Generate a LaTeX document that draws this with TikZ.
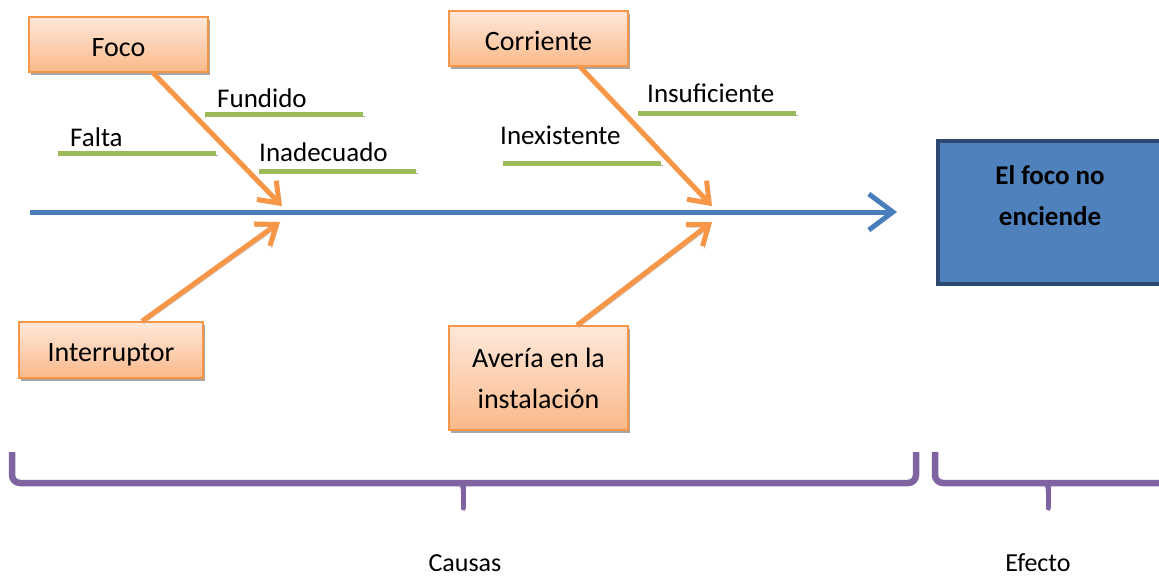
\documentclass[tikz,border=0pt]{standalone}
\usepackage{fontspec}
\setmainfont{Carlito}
\usetikzlibrary{arrows.meta,shadows,calc}
\definecolor{borange}{HTML}{F79646}
\definecolor{otop}{HTML}{FEE8DA}
\definecolor{obot}{HTML}{FAB98A}
\definecolor{sblue}{HTML}{4A7EBB}
\definecolor{eblue}{HTML}{4F81BD}
\definecolor{eborder}{HTML}{2C4770}
\definecolor{sgreen}{HTML}{9BBB59}
\definecolor{spurple}{HTML}{8064A2}
\tikzset{
  causebox/.style={draw=borange,line width=1.5pt,top color=otop,bottom color=obot,
    minimum width=179pt,align=center,font=\fontsize{28}{41}\selectfont,
    drop shadow={shadow xshift=2pt,shadow yshift=-3pt,fill=black!35,opacity=1}},
  onebox/.style={causebox,text height=26pt,text depth=3pt},
  lineshadow/.style={preaction={draw=black!35,transform canvas={shift={(1.5pt,-2.5pt)}}}},
  causearrow/.style={draw=borange,line width=5pt,lineshadow,
    -{Straight Barb[length=18pt,width=27pt]}},
  subline/.style={draw=sgreen,line width=5pt,lineshadow},
  sublabel/.style={anchor=base west,inner sep=0pt,font=\fontsize{27}{30}\selectfont},
  brace/.style={draw=spurple,line width=6.5pt,rounded corners=8pt,lineshadow},
  bracelabel/.style={inner sep=0pt,anchor=base,font=\fontsize{26}{28}\selectfont}
}
\begin{document}
\begin{tikzpicture}[x=1pt,y=-1pt]
\useasboundingbox (0,0) rectangle (1159,576);
% boxes
\node[onebox,minimum height=55pt] (foco) at (118.5,44.5) {Foco};
\node[onebox,minimum height=55pt] (corr) at (538.5,38.5) {Corriente};
\node[onebox,minimum width=184pt,minimum height=56pt] (inter) at (111,350) {Interruptor};
\node[causebox,minimum height=104pt] (aver) at (538.5,378) {Avería en la\\instalación};
% effect box
\node[draw=eborder,line width=4pt,fill=eblue,minimum width=240pt,minimum height=143pt,
  anchor=north west] (efecto) at (936,139) {};
\node[font=\fontsize{27}{41}\selectfont\bfseries,align=center,anchor=north] (eftext) at (1050,162) {El foco no\\enciende};
% spine
\coordinate (s0) at (30,212);
\coordinate (s1) at (897,212);
\draw[draw=sblue,line width=5pt,-{Straight Barb[length=24pt,width=36pt]}] (s0) -- (s1);
% tips
\coordinate (t1) at (282,206);
\coordinate (t2) at (712,206);
\coordinate (t3) at (280,222);
\coordinate (t4) at (712,222);
% green sublines
\draw[subline] (58,153) -- (216,153);
\draw[subline] (205,114) -- (363,114);
\draw[subline] (259,171) -- (416,171);
\draw[subline] (638,113) -- (796,113);
\draw[subline] (503,163) -- (661,163);
% arrows
\draw[causearrow] ([xshift=34.5pt]foco.south) -- (t1);
\draw[causearrow] ([xshift=41.5pt]corr.south) -- (t2);
\draw[causearrow] ([xshift=31pt]inter.north) -- (t3);
\draw[causearrow] ([xshift=38.5pt]aver.north) -- (t4);
% labels
\node[sublabel] (l1) at (70,146) {Falta};
\node[sublabel] (l2) at (217,107) {Fundido};
\node[sublabel] (l3) at (259,161) {Inadecuado};
\node[sublabel] (l4) at (647,102) {Insuficiente};
\node[sublabel] (l5) at (500,144) {Inexistente};
% braces
\draw[brace] (12,452) |- (463,483) -| (916,452);
\draw[brace] (935,452) |- (1180,483);
\draw[spurple,line width=5pt,line cap=round,lineshadow] (463,486) -- (463,508);
\fill[spurple] (452,481) .. controls (460,482) and (461,486) .. (461,494) -- (465,494) .. controls (465,486) and (466,482) .. (474,481) -- cycle;
\draw[spurple,line width=5pt,line cap=round,lineshadow] (1048,486) -- (1048,508);
\fill[spurple] (1037,481) .. controls (1045,482) and (1046,486) .. (1046,494) -- (1050,494) .. controls (1050,486) and (1051,482) .. (1059,481) -- cycle;
\node[bracelabel] (causas) at (465,571) {Causas};
\node[bracelabel] (efl) at (1038,571) {Efecto};
\end{tikzpicture}
\end{document}
